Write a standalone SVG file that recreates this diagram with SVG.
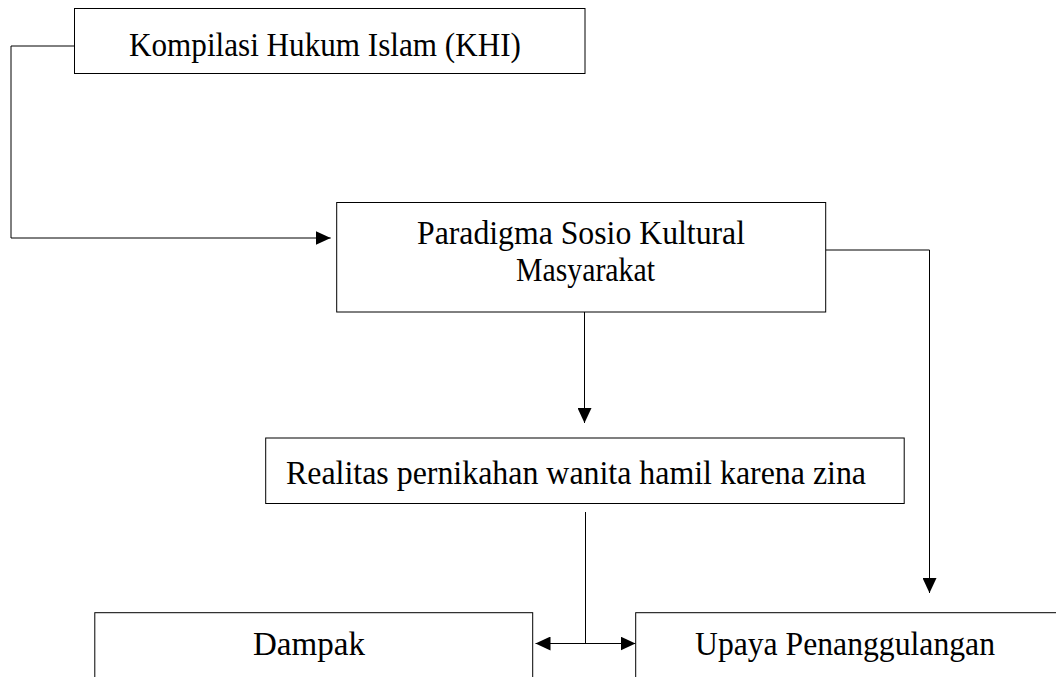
<svg xmlns="http://www.w3.org/2000/svg" width="1056" height="677" viewBox="0 0 1056 677">
  <defs>
    <marker id="arr" viewBox="0 0 15 14" refX="15" refY="7" markerWidth="15" markerHeight="14" markerUnits="userSpaceOnUse" orient="auto-start-reverse">
      <path d="M0,0 L15,7 L0,14 z" fill="#000"/>
    </marker>
    <style>
      .box { fill: #fff; stroke: #000; stroke-width: 1; }
      .lbl { font-family: "Liberation Serif", "Times New Roman", serif; font-size: 34px; fill: #000; }
      .c { text-anchor: middle; }
      .conn { fill: none; stroke: #000; stroke-width: 1; }
    </style>
  </defs>
  <rect width="1056" height="677" fill="#fff"/>

  <g id="connectors">
    <polyline class="conn" points="74.5,46 11,46 11,238 330.7,238" marker-end="url(#arr)"/>
    <polyline class="conn" points="825.7,250 929.5,250 929.5,593" marker-end="url(#arr)"/>
    <line class="conn" x1="584.5" y1="312" x2="584.5" y2="423" marker-end="url(#arr)"/>
    <line class="conn" x1="585.5" y1="512" x2="585.5" y2="643.5"/>
    <line class="conn" x1="535.5" y1="643.5" x2="635.5" y2="643.5" marker-start="url(#arr)" marker-end="url(#arr)"/>
  </g>

  <g id="node-khi">
    <rect class="box" x="74.5" y="8.5" width="510.5" height="65"/>
    <text class="lbl c" x="325" y="56" textLength="392" lengthAdjust="spacingAndGlyphs">Kompilasi Hukum Islam (KHI)</text>
  </g>

  <g id="node-paradigma">
    <rect class="box" x="336.7" y="202.5" width="489" height="109.5"/>
    <text class="lbl c" x="581" y="244" textLength="328" lengthAdjust="spacingAndGlyphs">Paradigma Sosio Kultural</text>
    <text class="lbl c" x="585.5" y="281" textLength="139" lengthAdjust="spacingAndGlyphs">Masyarakat</text>
  </g>

  <g id="node-realitas">
    <rect class="box" x="265.7" y="438" width="638.5" height="65.5"/>
    <text class="lbl" x="286" y="484" textLength="580" lengthAdjust="spacingAndGlyphs">Realitas pernikahan wanita hamil karena zina</text>
  </g>

  <g id="node-dampak">
    <rect class="box" x="94.8" y="612.7" width="437.9" height="80"/>
    <text class="lbl c" x="309" y="655" textLength="112" lengthAdjust="spacingAndGlyphs">Dampak</text>
  </g>

  <g id="node-upaya">
    <rect class="box" x="635.7" y="612.7" width="440" height="80"/>
    <text class="lbl c" x="845" y="655" textLength="300" lengthAdjust="spacingAndGlyphs">Upaya Penanggulangan</text>
  </g>
</svg>
